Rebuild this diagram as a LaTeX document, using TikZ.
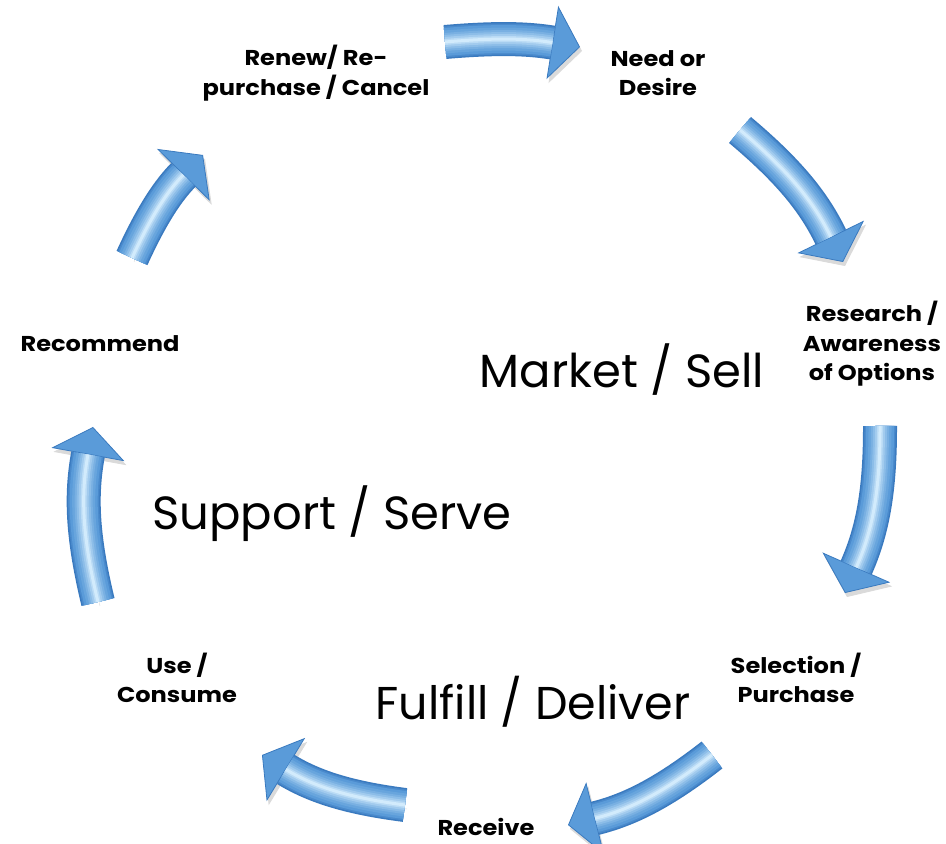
\documentclass[tikz,border=0pt]{standalone}
\usepackage{fontspec}
\setmainfont{Poppins}
\newfontfamily\stagefont[FakeStretch=1.12]{Poppins}
\usetikzlibrary{arrows.meta}

\definecolor{aEdge}{HTML}{3A7ABF}
\definecolor{aMid}{HTML}{5A9BD9}
\definecolor{aHigh}{HTML}{D2EBFC}
\definecolor{aShadow}{HTML}{DADADA}

\tikzset{
  stage/.style={font=\stagefont\bfseries\fontsize{21.5}{29.5}\selectfont, align=center, text=black, inner sep=0pt},
  phase/.style={font=\fontsize{46.5}{50}\selectfont, text=black, inner sep=0pt},
  tubelayer/.style 2 args={postaction={draw=#1, line width=#2, arrows=-, shorten >=28pt}},
  cyclearrow/.style={
    line cap=butt, line width=34pt, draw=aEdge,
    -{Triangle[length=28pt,width=74pt,line width=0.8pt,fill=aMid]},
    preaction={draw=aShadow, -{Triangle[length=28pt,width=74pt,line width=0.8pt,fill=aShadow]},
               transform canvas={shift={(2pt,-4pt)}}},
    tubelayer={aEdge!50!aMid}{31pt},
    tubelayer={aMid}{28pt},
    tubelayer={aMid!88!aHigh}{23pt},
    tubelayer={aMid!74!aHigh}{18pt},
    tubelayer={aMid!58!aHigh}{14pt},
    tubelayer={aMid!40!aHigh}{10pt},
    tubelayer={aMid!20!aHigh}{6pt},
    tubelayer={aHigh}{3pt},
  },
}

\begin{document}
\begin{tikzpicture}[x=1pt,y=1pt]
\useasboundingbox (0,0) rectangle (946,844);

% stage labels around the cycle
\node[stage] (renew) at (316,771) {Renew/ Re-\\purchase / Cancel};
\node[stage] (need) at (658,771) {Need or\\Desire};
\node[stage] (research) at (872,500) {Research /\\Awareness\\of Options};
\node[stage] (select) at (796,166) {Selection /\\Purchase};
\node[stage, anchor=base] (receive) at (486,8) {Receive};
\node[stage] (use) at (177,166) {Use /\\Consume};
\node[stage, anchor=base] (recommend) at (100,492) {Recommend};

% phase labels inside the cycle
\node[phase, anchor=base] (market) at (622,456) {Market / Sell};
\node[phase, anchor=base] (support) at (332,314) {Support / Serve};
\node[phase, anchor=base, font=\fontsize{46}{50}\selectfont] (fulfill) at (533,124) {Fulfill / Deliver};

% arrow end points
\coordinate (t1) at (445,802); \coordinate (h1) at (580,797);
\coordinate (t2) at (740,714); \coordinate (h2) at (843,582);
\coordinate (t3) at (880,418); \coordinate (h3) at (845,251);
\coordinate (t4) at (712,89);  \coordinate (h4) at (568,19);
\coordinate (t5) at (405,39);  \coordinate (h5) at (262,89);
\coordinate (t6) at (98,242);  \coordinate (h6) at (93,417);
\coordinate (t7) at (132,586); \coordinate (h7) at (203,689);

% curved block arrows, clockwise
\draw[cyclearrow] (t1) to[bend left=7] (h1);
\draw[cyclearrow] (t2) to[bend left=12] (h2);
\draw[cyclearrow] (t3) to[bend left=12] (h3);
\draw[cyclearrow] (t4) to[bend left=12] (h4);
\draw[cyclearrow] (t5) to[bend left=12] (h5);
\draw[cyclearrow] (t6) to[bend left=12] (h6);
\draw[cyclearrow] (t7) to[bend left=10] (h7);
\end{tikzpicture}
\end{document}
